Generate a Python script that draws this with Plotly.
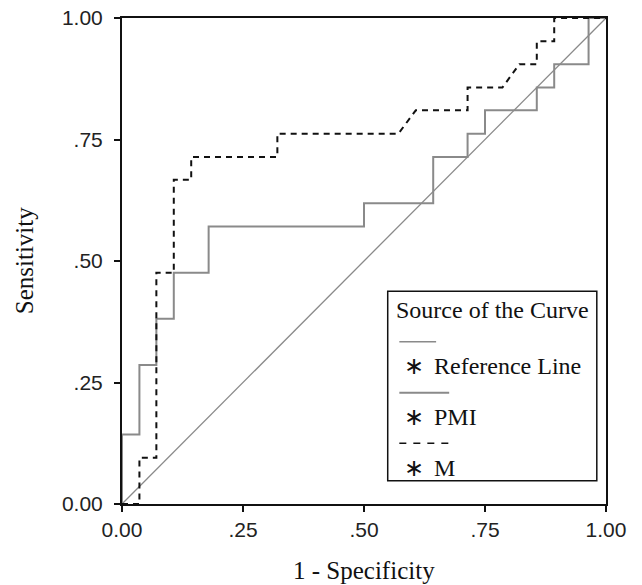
import plotly.graph_objects as go

# ---- data ----
ref_fpr = [0.0, 1.0]
ref_tpr = [0.0, 1.0]

pmi_fpr = [0.0, 0.0, 0.036, 0.036, 0.071, 0.071, 0.107, 0.107, 0.179, 0.179,
           0.500, 0.500, 0.643, 0.643, 0.714, 0.714, 0.750, 0.750, 0.857, 0.857,
           0.893, 0.893, 0.964, 0.964, 1.0]
pmi_tpr = [0.0, 0.143, 0.143, 0.286, 0.286, 0.381, 0.381, 0.476, 0.476, 0.571,
           0.571, 0.619, 0.619, 0.714, 0.714, 0.762, 0.762, 0.810, 0.810, 0.857,
           0.857, 0.905, 0.905, 1.0, 1.0]

m_fpr = [0.0, 0.036, 0.036, 0.071, 0.071, 0.107, 0.107, 0.143, 0.143, 0.321,
         0.321, 0.571, 0.607, 0.714, 0.714, 0.786, 0.821, 0.857, 0.857, 0.893,
         0.893, 1.0]
m_tpr = [0.0, 0.0, 0.095, 0.095, 0.476, 0.476, 0.667, 0.667, 0.714, 0.714,
         0.762, 0.762, 0.810, 0.810, 0.857, 0.857, 0.905, 0.905, 0.952, 0.952,
         1.0, 1.0]

tick_vals = [0.0, 0.25, 0.5, 0.75, 1.0]
tick_text = ["0.00", ".25", ".50", ".75", "1.00"]

legend_title = "Source of the Curve"
legend_names = ["Reference Line", "PMI", "M"]

GRAY = "#8a8a8a"
SERIF = "Liberation Serif, Times New Roman, serif"
SANS = "Liberation Sans, Arial, sans-serif"

fig = go.Figure()
fig.add_trace(go.Scatter(x=ref_fpr, y=ref_tpr, mode="lines",
                         line=dict(color=GRAY, width=1.3), showlegend=False))
fig.add_trace(go.Scatter(x=pmi_fpr, y=pmi_tpr, mode="lines",
                         line=dict(color=GRAY, width=2), showlegend=False))
fig.add_trace(go.Scatter(x=m_fpr, y=m_tpr, mode="lines",
                         line=dict(color="#111111", width=2, dash="6px,5px"),
                         showlegend=False))

axis_common = dict(range=[0, 1], tickvals=tick_vals, ticktext=tick_text,
                   showgrid=False, zeroline=False, showline=True, mirror=True,
                   linecolor="#111111", linewidth=2, ticks="outside", ticklen=6,
                   tickwidth=1.5, tickcolor="#111111", automargin=False,
                   ticklabeloverflow="allow",
                   tickfont=dict(family=SANS, size=21, color="#222222"))
fig.update_xaxes(**axis_common)
fig.update_yaxes(**axis_common, ticklabelstandoff=7)

# ---- custom legend box (SPSS style) ----
bx0, bx1, by0, by1 = 0.549, 0.981, 0.048, 0.438
fig.add_shape(type="rect", xref="x domain", yref="y domain",
              x0=bx0, x1=bx1, y0=by0, y1=by1,
              line=dict(color="#111111", width=1.5), fillcolor="white", layer="above")

samples = [
    (0.334, 0.649, dict(color=GRAY, width=1.5)),
    (0.229, 0.676, dict(color=GRAY, width=2)),
    (0.125, 0.676, dict(color="#111111", width=1.5, dash="7px,7px")),
]
for yy, xe, ln in samples:
    fig.add_shape(type="line", xref="x domain", yref="y domain",
                  x0=0.573, x1=xe, y0=yy, y1=yy, line=ln, layer="above")

annots = [
    dict(x=0.562, y=0.399, text=legend_title, xanchor="left", yanchor="middle",
         font=dict(family=SERIF, size=24, color="#111111")),
]
rows_y = [0.284, 0.180, 0.0747]
for name, yy in zip(legend_names, rows_y):
    annots.append(dict(x=0.604, y=yy, text="\u2217", xanchor="center", yanchor="middle",
                       font=dict(family="DejaVu Sans", size=24, color="#111111")))
    annots.append(dict(x=0.641, y=yy, text=name, xanchor="left", yanchor="middle",
                       font=dict(family=SERIF, size=24, color="#111111")))
for a in annots:
    a.update(xref="x domain", yref="y domain", showarrow=False)
    fig.add_annotation(**a)

# axis titles
fig.add_annotation(xref="x domain", yref="y domain", x=0.5, y=-0.136, yanchor="middle",
                   text="1 - Specificity", showarrow=False,
                   font=dict(family=SERIF, size=25, color="#111111"))
fig.add_annotation(xref="x domain", yref="y domain", x=-0.202, y=0.5, xanchor="center",
                   yanchor="middle", text="Sensitivity", showarrow=False, textangle=-90,
                   font=dict(family=SERIF, size=25, color="#111111"))

fig.update_layout(width=642, height=585,
                  margin=dict(l=122, r=36, t=18, b=81, autoexpand=False),
                  plot_bgcolor="white", paper_bgcolor="white", showlegend=False)

# remove the browser's default 8px body margin so the figure fills the window
fig.write_html("out.html", config={"displayModeBar": False},
               post_script="document.body.style.margin='0px';")
